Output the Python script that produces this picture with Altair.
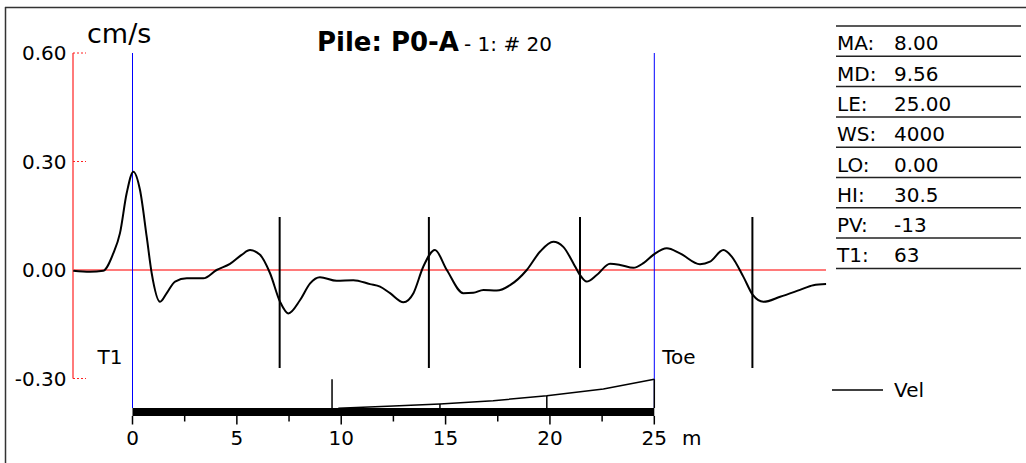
import altair as alt
import pandas as pd

# ---- velocity trace (depth in m, velocity in cm/s) ----
depth_m = [-2.84, -2.04, -1.40, -0.92, -0.60, -0.28, 0.04, 0.36, 0.68, 0.92,
           1.32, 1.64, 2.04, 2.60, 3.39, 4.03, 4.67, 5.23, 5.63, 6.11,
           6.59, 7.07, 7.47, 8.03, 8.51, 8.98, 9.78, 10.58, 11.38, 11.86,
           12.34, 12.98, 13.46, 13.93, 14.49, 15.06, 15.85, 16.33, 16.81, 17.45,
           18.09, 18.89, 19.53, 20.16, 20.64, 21.12, 21.44, 21.76, 22.24, 22.88,
           23.36, 24.00, 24.48, 25.00, 25.60, 26.23, 27.19, 27.67, 28.31, 28.71,
           29.27, 29.72, 30.23, 31.03, 31.98, 32.62, 33.23]
velocity = [-0.002, -0.005, -0.002, 0.046, 0.102, 0.212, 0.272, 0.221, 0.092, -0.009,
            -0.088, -0.064, -0.032, -0.023, -0.023, 0.000, 0.017, 0.042, 0.055, 0.042,
            -0.009, -0.088, -0.120, -0.083, -0.037, -0.020, -0.030, -0.028, -0.039, -0.046,
            -0.064, -0.089, -0.064, 0.009, 0.055, 0.000, -0.064, -0.063, -0.055, -0.057,
            -0.042, 0.000, 0.051, 0.078, 0.064, 0.019, -0.014, -0.032, -0.014, 0.017,
            0.014, 0.006, 0.019, 0.044, 0.060, 0.046, 0.016, 0.023, 0.055, 0.037,
            -0.019, -0.069, -0.088, -0.074, -0.055, -0.042, -0.039]

# ---- y axis ticks ----
y_ticks = [0.60, 0.30, 0.00, -0.30]
y_tick_labels = ["0.60", "0.30", "0.00", "-0.30"]

# ---- depth axis ticks ----
x_ticks = [0, 2.5, 5, 7.5, 10, 12.5, 15, 17.5, 20, 22.5, 25]
x_major = [True, False, True, False, True, False, True, False, True, False, True]

# ---- reflection markers ----
marker_m = [7.05, 14.2, 21.44, 29.7]
t1_toe_m = [0.0, 25.0]
t1_toe_labels = ["T1", "Toe"]

# ---- amplification profile under the pile bar ----
profile_m = [9.86, 12.50, 14.73, 17.28, 19.85, 22.56, 25.00]
profile_rise = [0.0, 0.079, 0.148, 0.262, 0.434, 0.664, 1.0]
profile_tick_m = [9.56, 14.73, 19.85, 25.0]
profile_tick_top = [1.0, 0.148, 0.434, 1.0]

# ---- parameter table ----
param_names = ["MA:", "MD:", "LE:", "WS:", "LO:", "HI:", "PV:", "T1:"]
param_values = ["8.00", "9.56", "25.00", "4000", "0.00", "30.5", "-13", "63"]

FONT = "DejaVu Sans"
AXIS_RED = "#ff7a7a"

X = alt.Scale(domain=[0, 25], range=[132.5, 654.3], nice=False, zero=False)
V = alt.Scale(domain=[-0.3, 0.6], range=[378.5, 53], nice=False, zero=False)
P = alt.Scale(domain=[0, 1], range=[408.3, 379.3], nice=False, zero=False)
T = alt.Scale(domain=[0, 8], range=[26, 268.4], nice=False, zero=False)


def xm(field):
    return alt.X(field, scale=X, axis=None)


def ys(field, scale):
    return alt.Y(field, scale=scale, axis=None)


one = pd.DataFrame({"k": [0]})
trace = pd.DataFrame({"m": depth_m, "v": velocity})
yt = pd.DataFrame({"v": y_ticks, "label": y_tick_labels})
xt = pd.DataFrame({"m": x_ticks, "major": x_major})
xt["label"] = [f"{t:g}" for t in x_ticks]
marks = pd.DataFrame({"m": marker_m})
tt = pd.DataFrame({"m": t1_toe_m, "label": t1_toe_labels, "top": [0.6, 0.6]})
prof = pd.DataFrame({"m": profile_m, "rise": profile_rise})
ptick = pd.DataFrame({"m": profile_tick_m, "top": profile_tick_top})
table = pd.DataFrame({"row": list(range(len(param_names))),
                      "name": param_names, "value": param_values})
table["base"] = table["row"] + 1
table_lines = pd.DataFrame({"row": list(range(len(param_names) + 1))})

# outer frame (top and left edges)
frame_top = alt.Chart(one).mark_rule(color="#333", strokeWidth=1.5).encode(
    x=alt.value(5), x2=alt.value(1026), y=alt.value(7.5))
frame_left = alt.Chart(one).mark_rule(color="#333", strokeWidth=1.5).encode(
    x=alt.value(5.5), y=alt.value(7), y2=alt.value(463))

# velocity axis
y_line = alt.Chart(yt).mark_rule(color=AXIS_RED, strokeWidth=2).encode(
    x=alt.value(73), y=ys("max(v):Q", V), y2=alt.Y2("min(v):Q"))
y_tick_marks = alt.Chart(yt).transform_filter("datum.v != 0").mark_rule(
    color="#ff2020", strokeWidth=1, strokeDash=[2, 2]).encode(
    x=alt.value(73), x2=alt.value(86), y=ys("v:Q", V))
y_labels = alt.Chart(yt).mark_text(align="right", baseline="alphabetic", dy=7,
                                   fontSize=20).encode(
    x=alt.value(66.5), y=ys("v:Q", V), text="label:N")
zero_line = alt.Chart(yt).transform_filter("datum.v == 0").mark_rule(
    color=AXIS_RED, strokeWidth=2).encode(
    x=alt.value(73), x2=alt.value(826), y=ys("v:Q", V))
unit = alt.Chart(one).mark_text(align="left", baseline="alphabetic",
                                fontSize=27).encode(
    x=alt.value(87), y=alt.value(43), text=alt.value("cm/s"))

# T1 / Toe cursors
blue = alt.Chart(tt).mark_rule(color="#0000ff", strokeWidth=1).encode(
    x=xm("m:Q"), y=ys("top:Q", V), y2=alt.value(408))
t1_label = alt.Chart(tt.iloc[[0]]).mark_text(align="right", baseline="alphabetic",
                                              dx=-10, fontSize=20).encode(
    x=xm("m:Q"), y=alt.value(364), text="label:N")
toe_label = alt.Chart(tt.iloc[[1]]).mark_text(align="left", baseline="alphabetic",
                                               dx=8, fontSize=20).encode(
    x=xm("m:Q"), y=alt.value(364), text="label:N")

# reflection marker lines
marker_lines = alt.Chart(marks).mark_rule(color="black", strokeWidth=2).encode(
    x=xm("m:Q"), y=alt.value(217), y2=alt.value(368))

# velocity curve
curve = alt.Chart(trace).mark_line(color="black", strokeWidth=2,
                                   interpolate="monotone").encode(
    x=xm("m:Q"), y=ys("v:Q", V))

# pile bar, depth ticks and labels
bar = alt.Chart(xt).mark_rule(color="black", strokeWidth=8).encode(
    x=xm("min(m):Q"), x2=alt.X2("max(m):Q"), y=alt.value(412))
major_ticks = alt.Chart(xt).transform_filter("datum.major").mark_rule(
    color="black", strokeWidth=1.5).encode(
    x=xm("m:Q"), y=alt.value(416), y2=alt.value(424.5))
minor_ticks = alt.Chart(xt).transform_filter("!datum.major").mark_rule(
    color="black", strokeWidth=1.5).encode(
    x=xm("m:Q"), y=alt.value(416), y2=alt.value(421.5))
x_labels = alt.Chart(xt).transform_filter("datum.major").mark_text(
    align="center", baseline="alphabetic", fontSize=20).encode(
    x=xm("m:Q"), y=alt.value(445), text="label:N")
x_unit = alt.Chart(one).mark_text(align="left", baseline="alphabetic",
                                  fontSize=20).encode(
    x=alt.value(682), y=alt.value(445), text=alt.value("m"))

# amplification profile
profile = alt.Chart(prof).mark_line(color="black", strokeWidth=1.5).encode(
    x=xm("m:Q"), y=ys("rise:Q", P))
profile_ticks = alt.Chart(ptick).mark_rule(color="black", strokeWidth=1.5).encode(
    x=xm("m:Q"), y=ys("top:Q", P), y2=alt.value(408))

# title
title_bold = alt.Chart(one).mark_text(align="right", baseline="alphabetic",
                                      fontSize=26, fontWeight="bold").encode(
    x=alt.value(459), y=alt.value(51), text=alt.value("Pile: P0-A"))
title_rest = alt.Chart(one).mark_text(align="left", baseline="alphabetic",
                                      fontSize=20).encode(
    x=alt.value(464), y=alt.value(51), text=alt.value("- 1: # 20"))

# parameter table
tbl_lines = alt.Chart(table_lines).mark_rule(color="#222", strokeWidth=1.5).encode(
    x=alt.value(836), x2=alt.value(1021), y=ys("row:Q", T))
tbl_names = alt.Chart(table).mark_text(align="left", baseline="alphabetic",
                                       dy=-6, fontSize=20).encode(
    x=alt.value(837), y=ys("base:Q", T), text="name:N")
tbl_values = alt.Chart(table).mark_text(align="left", baseline="alphabetic",
                                        dy=-6, fontSize=20).encode(
    x=alt.value(894), y=ys("base:Q", T), text="value:N")

# legend
legend_line = alt.Chart(one).mark_rule(color="black", strokeWidth=1.5).encode(
    x=alt.value(832), x2=alt.value(883), y=alt.value(390))
legend_text = alt.Chart(one).mark_text(align="left", baseline="alphabetic",
                                       fontSize=20).encode(
    x=alt.value(894), y=alt.value(397), text=alt.value("Vel"))

chart = alt.layer(
    frame_top, frame_left,
    y_line, zero_line, y_tick_marks, y_labels, unit,
    blue, marker_lines, curve,
    bar, major_ticks, minor_ticks, x_labels, x_unit,
    profile, profile_ticks, t1_label, toe_label,
    title_bold, title_rest,
    tbl_lines, tbl_names, tbl_values,
    legend_line, legend_text,
).resolve_scale(y="independent").properties(
    width=1026, height=463, padding=0,
    autosize=alt.AutoSizeParams(type="none"),
).configure_view(stroke=None).configure_text(font=FONT, color="black")

chart.save("out.html", embed_options={"renderer": "svg", "actions": False})
